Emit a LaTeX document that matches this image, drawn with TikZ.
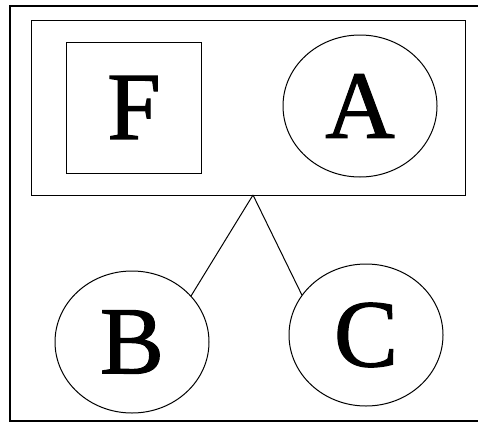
\documentclass[tikz,border=0pt]{standalone}
\usepackage{fontspec}
\setmainfont{Liberation Serif}
\newfontfamily\letterfont{Liberation Serif}[BoldFont=Liberation Serif, BoldFeatures={FakeBold=1.2}]
\usetikzlibrary{positioning,shapes.geometric}
\tikzset{
  frame/.style={draw=black, line width=2.2pt},
  group/.style={draw=black, line width=0.9pt, minimum width=434pt, minimum height=175pt, inner sep=0pt},
  sq/.style={draw=black, line width=0.8pt, minimum width=135pt, minimum height=131pt, inner sep=0pt,
    font=\letterfont\bfseries\fontsize{96}{96}\selectfont},
  circ/.style={draw=black, ellipse, line width=1pt, minimum width=154pt, minimum height=142pt, inner sep=0pt,
    font=\letterfont\bfseries\fontsize{96}{96}\selectfont},
  link/.style={draw=black, line width=1pt}
}
\begin{document}
\begin{tikzpicture}[x=1pt, y=-1pt]
  \useasboundingbox (0,0) rectangle (478,423);
  % outer frame
  \draw[frame] (478,6) -- (10,6) -- (10,421) -- (478,421);
  % group box with F and A
  \node[group] (grp) at (248,107.5) {};
  \node[sq] (f) at (134,107.5) {F};
  \node[circ] (a) at (360,106) {A};
  % lower nodes
  \node[circ] (b) at (132,342) {B};
  \node[circ] (c) at (366,335) {C};
  \coordinate (top) at (253,195);
  \draw[link] (top) -- (b.38);
  \draw[link] (top) -- (c.148);
\end{tikzpicture}
\end{document}
